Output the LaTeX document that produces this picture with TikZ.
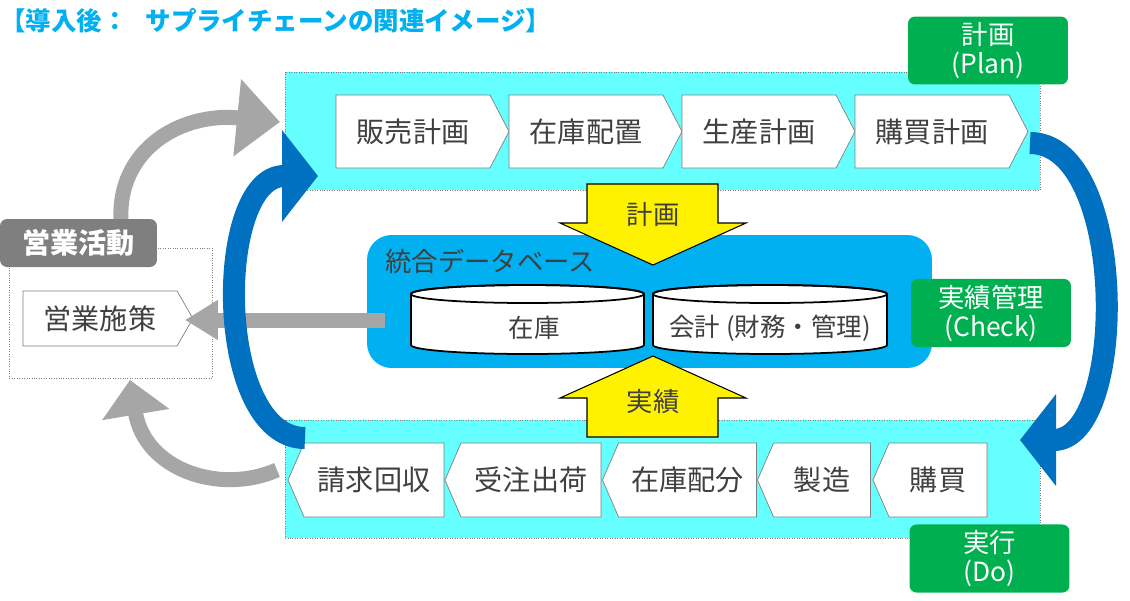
\documentclass[tikz,border=0pt]{standalone}
\usepackage{fontspec}
\setmainfont{Noto Sans CJK JP}
\usetikzlibrary{shapes.symbols,arrows.meta}

\definecolor{titleblue}{HTML}{00B0F0}
\definecolor{panelcyan}{HTML}{66FFFF}
\definecolor{dbblue}{HTML}{00B0F0}
\definecolor{arrowblue}{HTML}{0070C0}
\definecolor{arrowgray}{HTML}{A6A6A6}
\definecolor{lblgreen}{HTML}{00B050}
\definecolor{lblgray}{HTML}{7F7F7F}
\definecolor{textgray}{HTML}{404040}
\definecolor{linegray}{HTML}{7F7F7F}

\tikzset{
	chevr/.style={signal, signal to=east, signal pointer angle=125, draw=linegray, fill=white,
		text=textgray, font=\fontsize{16}{18}\selectfont, inner sep=0pt, minimum height=1.46cm},
	chevl/.style={signal, signal to=west, signal pointer angle=133, draw=linegray, fill=white,
		text=textgray, font=\fontsize{16}{18}\selectfont, inner sep=0pt, minimum height=1.48cm},
	panel/.style={fill=panelcyan, draw=gray, densely dotted},
	greenlbl/.style={rounded corners=4pt, fill=lblgreen, text=white, align=center,
		font=\fontsize{15}{16.5}\selectfont, minimum width=3.2cm, minimum height=1.35cm},
	yarrow/.style={fill=yellow, draw=black, line width=0.6pt},
	bluearrow/.style={draw=arrowblue, line width=0.44cm, -{Triangle[length=0.72cm, width=1.8cm]}},
	grayarrow/.style={draw=arrowgray, line width=0.3cm},
}

\begin{document}
\begin{tikzpicture}[x=0.02cm,y=-0.02cm]
	\useasboundingbox (0,0) rectangle (1130,600);
	% title
	\node[anchor=west, inner sep=0pt, text=titleblue, font=\bfseries\fontsize{14.5}{16}\selectfont] (title) at (0,21)
		{【導入後：\hspace{0.7em}サプライチェーンの関連イメージ】};
	% gray loop arrows round the sales box
	\coordinate (ga1) at (121,219);
	\coordinate (ga2) at (280,122);
	\coordinate (gb1) at (277,470);
	\coordinate (gb2) at (130,380);
	\draw[grayarrow, -{Triangle[length=0.86cm, width=1.5cm]}] (ga1) .. controls (118,150) and (180,112) .. (ga2);
	\draw[grayarrow, -{Triangle[length=0.7cm, width=1.32cm]}] (gb1) .. controls (220,495) and (145,470) .. (gb2);
	% plan and do areas
	\draw[panel] (285,72) rectangle (1040,190);
	\draw[panel] (285,420) rectangle (1040,538);
	% plan steps
	\node[chevr, minimum width=3.46cm] (p1) at (413,131.5) {販売計画};
	\node[chevr, minimum width=3.46cm] (p2) at (586,131.5) {在庫配置};
	\node[chevr, minimum width=3.46cm] (p3) at (759,131.5) {生産計画};
	\node[chevr, minimum width=3.46cm] (p4) at (932,131.5) {購買計画};
	% do steps
	\node[chevl, minimum width=3.12cm] (d1) at (374,480) {請求回収};
	\node[chevl, minimum width=3.12cm] (d2) at (531,480) {受注出荷};
	\node[chevl, minimum width=3.08cm] (d3) at (687.5,480) {在庫配分};
	\node[chevl, minimum width=2.26cm] (d4) at (822,480) {製造};
	\node[chevl, minimum width=2.28cm] (d5) at (938,480) {購買};
	% sales activity
	\draw[draw=gray, densely dotted] (9,248) rectangle (212,378);
	\node[signal, signal to=east, signal pointer angle=120, draw=linegray, fill=white, text=textgray,
		font=\fontsize{16}{18}\selectfont, inner sep=0pt, minimum width=3.4cm, minimum height=1.1cm] (sales) at (100,318.5) {営業施策};
	\node[rounded corners=4pt, fill=lblgray, text=white, font=\bfseries\fontsize{16}{18}\selectfont,
		minimum width=3.14cm, minimum height=0.96cm] (salesact) at (78.5,243) {営業活動};
	% integrated database
	\node[fill=dbblue, rounded corners=14pt, minimum width=11.3cm, minimum height=2.66cm] (db) at (649.5,301.5) {};
	\node[anchor=west, inner sep=0pt, text=textgray, font=\fontsize{15}{17}\selectfont] (dbname) at (385,261) {統合データベース};
	\draw[line width=1pt, fill=white] (411,294) -- (411,345) arc (180:0:116.5 and 9) -- (644,294) arc (0:-180:116.5 and 9) -- cycle;
	\draw[line width=1pt] (527.5,294) ellipse (116.5 and 9);
	\draw[line width=1pt, fill=white] (653,294) -- (653,345) arc (180:0:117 and 9) -- (887,294) arc (0:-180:117 and 9) -- cycle;
	\draw[line width=1pt] (770,294) ellipse (117 and 9);
	\node[text=textgray, font=\fontsize{14.5}{16}\selectfont] (stock) at (534,328) {在庫};
	\node[text=textgray, font=\fontsize{14.5}{16}\selectfont] (acct) at (770,328) {会計 (財務・管理)};
	% db to sales
	\coordinate (gc1) at (385,320);
	\coordinate (gc2) at (185,320);
	\draw[grayarrow, -{Triangle[length=0.66cm, width=0.76cm]}] (gc1) -- (gc2);
	% plan and result arrows
	\draw[yarrow] (587,184) -- (718,184) -- (718,223) -- (746,223) -- (653,265) -- (560,223) -- (587,223) -- cycle;
	\node[text=textgray, font=\fontsize{15}{17}\selectfont] (plantxt) at (653,215) {計画};
	\draw[yarrow] (587,437) -- (718,437) -- (718,398) -- (746,398) -- (653,356) -- (560,398) -- (587,398) -- cycle;
	\node[text=textgray, font=\fontsize{15}{17}\selectfont] (acttxt) at (653,402) {実績};
	% PDCA cycle arrows
	\coordinate (bl1) at (305,438);
	\coordinate (bl2) at (318,176);
	\coordinate (br1) at (1030,143);
	\coordinate (br2) at (1020,440);
	\draw[bluearrow] (bl1) .. controls (214,438) and (214,176) .. (bl2);
	\draw[bluearrow] (br1) .. controls (1128,143) and (1128,440) .. (br2);
	% phase labels
	\node[greenlbl] (plan) at (988,50.5) {計画\\(Plan)};
	\node[greenlbl] (check) at (991,313) {実績管理\\(Check)};
	\node[greenlbl] (do) at (989.5,558.5) {実行\\(Do)};
\end{tikzpicture}
\end{document}
